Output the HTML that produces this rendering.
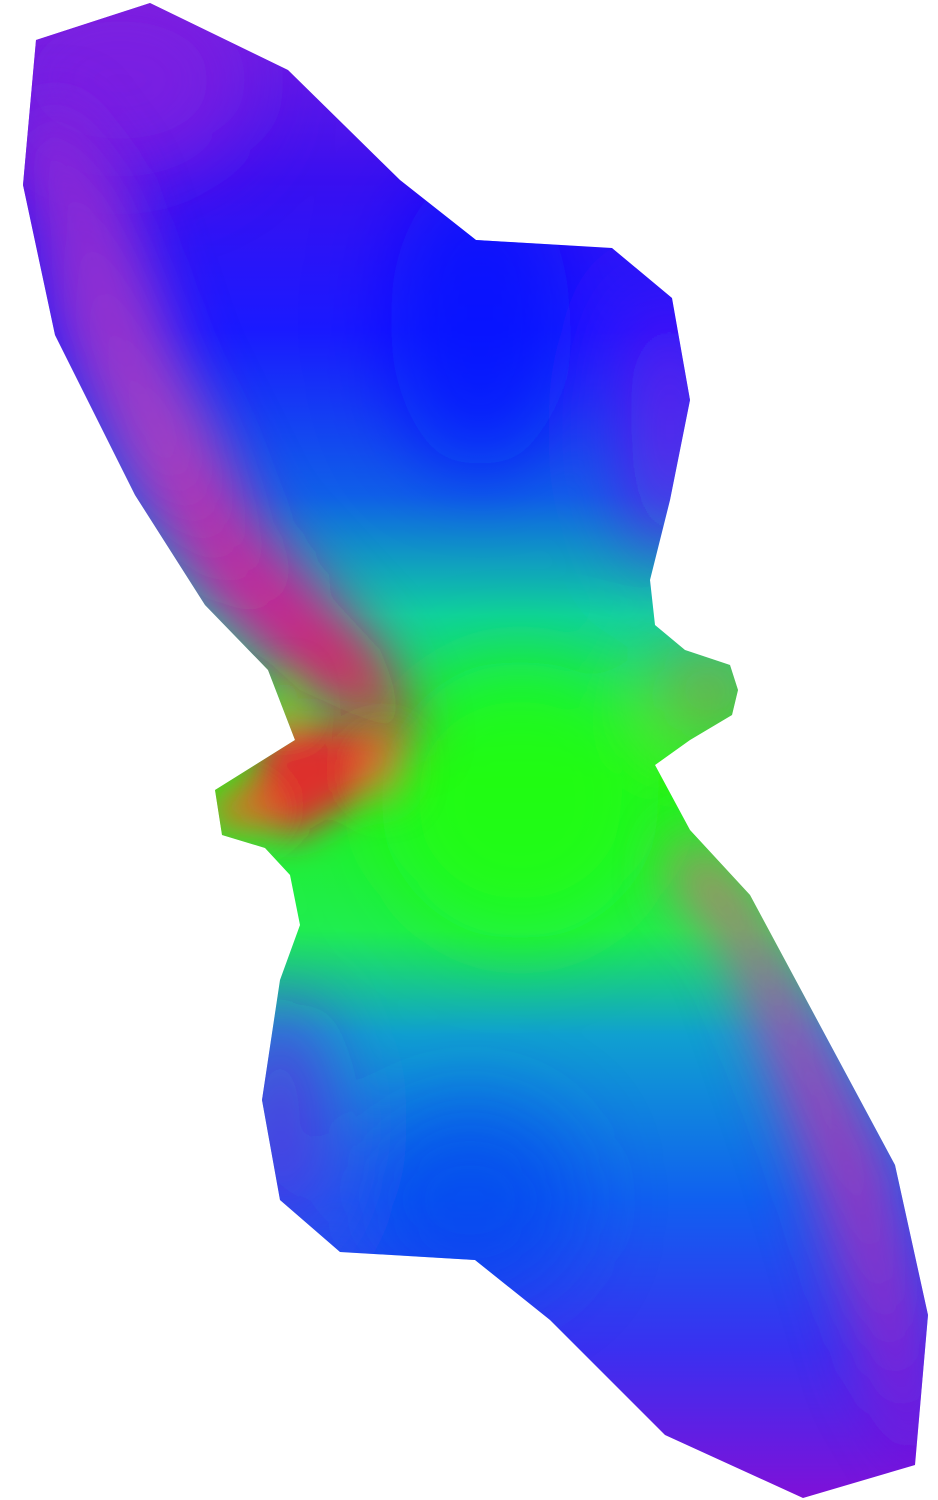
<!DOCTYPE html>
<html><head><meta charset="utf-8"><style>
html,body{margin:0;padding:0;background:#fff;width:938px;height:1500px;overflow:hidden}
svg{display:block}
</style></head><body>
<svg width="938" height="1500" viewBox="0 0 938 1500" xmlns="http://www.w3.org/2000/svg">
<defs>
<clipPath id="shape">
<polygon points="36,40 150,3 288,70 400,180 476,240 612,248 672,298 690,400 670,500 650,580 655,625 685,650 730,665 738,690 732,715 690,740 655,765 690,830 750,895 895,1165 928,1315 915,1465 803,1498 665,1435 550,1320 475,1260 340,1252 280,1200 262,1100 280,980 300,925 290,875 265,848 222,835 215,790 295,740 268,670 205,605 135,495 55,335 23,185"/>
</clipPath>
<linearGradient id="base" x1="0" y1="0" x2="0" y2="1500" gradientUnits="userSpaceOnUse">
<stop offset="0" stop-color="#7a1ee0"/>
<stop offset="0.12" stop-color="#3a10f0"/>
<stop offset="0.22" stop-color="#1a1aff"/>
<stop offset="0.33" stop-color="#1060e8"/>
<stop offset="0.41" stop-color="#10d0a0"/>
<stop offset="0.52" stop-color="#20f020"/>
<stop offset="0.62" stop-color="#20ee50"/>
<stop offset="0.69" stop-color="#10a0d0"/>
<stop offset="0.80" stop-color="#1060f0"/>
<stop offset="0.90" stop-color="#3a30f0"/>
<stop offset="1" stop-color="#8010d8"/>
</linearGradient>
<linearGradient id="leftband" x1="60" y1="150" x2="400" y2="740" gradientUnits="userSpaceOnUse">
<stop offset="0" stop-color="#8a28d8"/>
<stop offset="0.45" stop-color="#b040c0"/>
<stop offset="0.75" stop-color="#e01090"/>
<stop offset="1" stop-color="#ff1030"/>
</linearGradient>
<linearGradient id="rightband" x1="720" y1="880" x2="900" y2="1470" gradientUnits="userSpaceOnUse">
<stop offset="0" stop-color="#d07070"/>
<stop offset="0.3" stop-color="#b040b0"/>
<stop offset="0.7" stop-color="#9030c8"/>
<stop offset="1" stop-color="#7a10e0"/>
</linearGradient>
<filter id="blur" x="-50%" y="-50%" width="200%" height="200%"><feGaussianBlur stdDeviation="40"/></filter>
<filter id="blur2" x="-50%" y="-50%" width="200%" height="200%"><feGaussianBlur stdDeviation="18"/></filter>
<filter id="blur3" x="-50%" y="-50%" width="200%" height="200%"><feGaussianBlur stdDeviation="28"/></filter>
</defs>
<g clip-path="url(#shape)">
<rect x="0" y="0" width="938" height="1500" fill="url(#base)"/>
<g filter="url(#blur)">
<ellipse cx="120" cy="80" rx="130" ry="100" fill="#8020e0" opacity="0.8"/>
<ellipse cx="670" cy="430" rx="40" ry="130" fill="#8010e8" opacity="0.8"/>
<ellipse cx="480" cy="320" rx="90" ry="150" fill="#0010ff" opacity="0.7"/>
<ellipse cx="520" cy="800" rx="140" ry="140" fill="#20ff10" opacity="0.8"/>
<ellipse cx="710" cy="690" rx="45" ry="35" fill="#d08030" opacity="0.9"/>
<ellipse cx="280" cy="1120" rx="50" ry="120" fill="#7020e0" opacity="0.7"/>
<ellipse cx="470" cy="1200" rx="110" ry="100" fill="#0040f0" opacity="0.6"/>
</g>
<g filter="url(#blur3)">
<polygon points="0,150 23,185 55,335 135,495 205,605 300,690 420,745 380,650 260,520 180,360 120,180 60,100" fill="url(#leftband)" opacity="0.9"/>
<polygon points="690,830 750,895 895,1165 928,1315 930,1480 870,1380 800,1150 730,950 670,880" fill="url(#rightband)" opacity="0.9"/>
</g>
<g filter="url(#blur2)">
<polygon points="270,720 410,730 360,800 290,840 240,810" fill="#ff1030" opacity="0.85"/>
<ellipse cx="240" cy="810" rx="35" ry="25" fill="#e07020" opacity="0.8"/>
<ellipse cx="285" cy="700" rx="15" ry="25" fill="#a0c010" opacity="0.8"/>
<ellipse cx="385" cy="770" rx="25" ry="35" fill="#d09030" opacity="0.6"/>
</g>
</g>
</svg>
</body></html>
